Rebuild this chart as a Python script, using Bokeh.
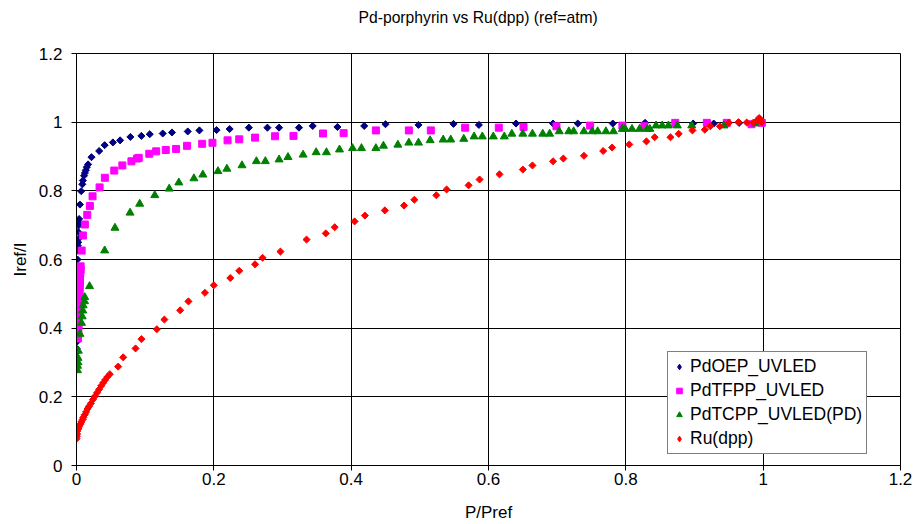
import math
from bokeh.plotting import figure
from bokeh.models import Range1d, Legend, LegendItem, FixedTicker, Title
from bokeh.embed import file_html
from bokeh.resources import INLINE

title_text = "Pd-porphyrin vs Ru(dpp) (ref=atm)"
x_label = "P/Pref"
y_label = "Iref/I"
tick_values = [0, 0.2, 0.4, 0.6, 0.8, 1.0, 1.2]
tick_labels = ["0", "0.2", "0.4", "0.6", "0.8", "1", "1.2"]

series_names = ["PdOEP_UVLED", "PdTFPP_UVLED", "PdTCPP_UVLED(PD)", "Ru(dpp)"]

pdoep_x = [0.0003, 0.0004, 0.0004, 0.0005, 0.0005, 0.0006, 0.0006, 0.0007, 0.0008, 0.0008,
           0.001, 0.001, 0.0012, 0.0015, 0.0015, 0.0015, 0.002, 0.0025, 0.0025, 0.0025, 0.003,
           0.003, 0.0035, 0.0038, 0.005, 0.0068, 0.0085, 0.0093, 0.011, 0.0122, 0.0136, 0.015,
           0.0169, 0.0218, 0.033, 0.041, 0.053, 0.0635, 0.0785, 0.0945, 0.1067, 0.1256, 0.139,
           0.162, 0.179, 0.204, 0.223, 0.251, 0.278, 0.295, 0.324, 0.344, 0.38, 0.419, 0.45,
           0.498, 0.549, 0.586, 0.64, 0.694, 0.73, 0.781, 0.828, 0.898, 0.928, 0.965, 0.99]
pdoep_y = [0.33, 0.34, 0.36, 0.38, 0.40, 0.42, 0.44, 0.46, 0.48, 0.50,
           0.52, 0.54, 0.56, 0.58, 0.60, 0.626, 0.64, 0.65, 0.66, 0.68, 0.699,
           0.71, 0.705, 0.718, 0.76, 0.799, 0.819, 0.83, 0.844, 0.852, 0.86, 0.869,
           0.877, 0.898, 0.916, 0.933, 0.941, 0.947, 0.957, 0.96, 0.965, 0.967, 0.97,
           0.973, 0.976, 0.977, 0.98, 0.984, 0.984, 0.984, 0.984, 0.989, 0.986, 0.989, 0.994,
           0.992, 0.995, 0.992, 0.996, 0.996, 0.996, 0.996, 0.998, 0.996, 0.996, 0.998, 1.0]

pdtfpp_x = [0.002, 0.0025, 0.0025, 0.0025, 0.003, 0.003, 0.003, 0.003, 0.0035, 0.0035, 0.0035,
            0.004, 0.004, 0.004, 0.0045, 0.0045, 0.005, 0.005, 0.005, 0.0055, 0.006, 0.006,
            0.0075, 0.0093, 0.0122, 0.0157, 0.0195, 0.0234, 0.0336, 0.0413, 0.055, 0.0668,
            0.080, 0.0882, 0.0906, 0.106, 0.116, 0.130, 0.145, 0.161, 0.183, 0.198, 0.220,
            0.237, 0.260, 0.289, 0.316, 0.359, 0.389, 0.436, 0.484, 0.516, 0.566, 0.615,
            0.651, 0.699, 0.748, 0.795, 0.827, 0.872, 0.918, 0.947, 0.983, 0.998]
pdtfpp_y = [0.37, 0.38, 0.39, 0.40, 0.41, 0.42, 0.43, 0.44, 0.45, 0.46, 0.47,
            0.48, 0.49, 0.50, 0.51, 0.52, 0.53, 0.54, 0.55, 0.56, 0.57, 0.58,
            0.626, 0.670, 0.702, 0.730, 0.756, 0.784, 0.810, 0.838, 0.859, 0.874,
            0.886, 0.894, 0.896, 0.908, 0.915, 0.919, 0.922, 0.931, 0.937, 0.940, 0.947,
            0.950, 0.955, 0.959, 0.960, 0.967, 0.968, 0.976, 0.976, 0.976, 0.984, 0.984,
            0.986, 0.988, 0.990, 0.990, 0.988, 0.998, 0.998, 0.998, 0.994, 0.998]

pdtcpp_x = [0.0015, 0.0015, 0.0022, 0.0022, 0.0026, 0.005, 0.0073, 0.0083, 0.0092, 0.0097,
            0.0117, 0.012, 0.019, 0.041, 0.056, 0.078, 0.092, 0.114, 0.135, 0.149, 0.171,
            0.184, 0.206, 0.219, 0.241, 0.262, 0.275, 0.295, 0.308, 0.330, 0.349, 0.364,
            0.383, 0.402, 0.415, 0.436, 0.447, 0.468, 0.484, 0.498, 0.515, 0.534, 0.545,
            0.564, 0.579, 0.591, 0.607, 0.623, 0.634, 0.650, 0.664, 0.679, 0.689, 0.703,
            0.717, 0.724, 0.739, 0.751, 0.759, 0.771, 0.782, 0.795, 0.799, 0.809, 0.820,
            0.831, 0.835, 0.844, 0.853, 0.862, 0.875, 0.896, 0.943, 0.988]
pdtcpp_y = [0.277, 0.290, 0.300, 0.313, 0.334, 0.383, 0.415, 0.434, 0.451, 0.466,
            0.478, 0.490, 0.522, 0.626, 0.692, 0.736, 0.762, 0.787, 0.806, 0.824, 0.836,
            0.847, 0.857, 0.864, 0.874, 0.886, 0.886, 0.891, 0.898, 0.905, 0.912, 0.912,
            0.920, 0.924, 0.924, 0.924, 0.931, 0.934, 0.940, 0.940, 0.947, 0.949, 0.949,
            0.951, 0.958, 0.958, 0.958, 0.958, 0.966, 0.966, 0.966, 0.966, 0.966, 0.973,
            0.973, 0.973, 0.973, 0.973, 0.973, 0.973, 0.973, 0.980, 0.980, 0.980, 0.980,
            0.980, 0.980, 0.990, 0.990, 0.990, 0.990, 0.990, 0.990, 0.996]

rudpp_x = [0.000, 0.0005, 0.001, 0.001, 0.002, 0.003, 0.004, 0.006, 0.007, 0.009, 0.010,
           0.012, 0.014, 0.016, 0.018, 0.021, 0.024, 0.027, 0.030, 0.033, 0.036, 0.039,
           0.042, 0.045, 0.0485, 0.0607, 0.068, 0.086, 0.0946, 0.117, 0.128, 0.151, 0.163,
           0.187, 0.200, 0.224, 0.237, 0.260, 0.271, 0.297, 0.335, 0.363, 0.376, 0.405,
           0.420, 0.449, 0.477, 0.492, 0.524, 0.539, 0.571, 0.587, 0.616, 0.650, 0.664,
           0.694, 0.709, 0.739, 0.767, 0.780, 0.805, 0.830, 0.842, 0.865, 0.877, 0.897,
           0.915, 0.923, 0.937, 0.950, 0.964, 0.976, 0.986, 0.992, 0.994, 0.996, 0.998]
rudpp_y = [0.078, 0.085, 0.092, 0.100, 0.105, 0.110, 0.115, 0.121, 0.127, 0.134, 0.140,
           0.148, 0.156, 0.165, 0.172, 0.181, 0.192, 0.202, 0.212, 0.222, 0.232, 0.241,
           0.250, 0.258, 0.266, 0.288, 0.315, 0.341, 0.368, 0.397, 0.425, 0.452, 0.478,
           0.503, 0.525, 0.546, 0.567, 0.586, 0.605, 0.623, 0.658, 0.676, 0.694, 0.711,
           0.728, 0.743, 0.757, 0.774, 0.787, 0.804, 0.816, 0.833, 0.848, 0.862, 0.874,
           0.886, 0.894, 0.902, 0.916, 0.926, 0.935, 0.944, 0.956, 0.956, 0.966, 0.976,
           0.978, 0.988, 0.988, 0.998, 1.000, 0.999, 0.999, 1.005, 1.012, 1.008, 1.000]

FONT = "Liberation Sans"
colors = ["#000080", "#FF00FF", "#008000", "#FF0000"]

p = figure(width=915, height=524, output_backend="svg", toolbar_location=None,
           x_range=Range1d(0, 1.2), y_range=Range1d(0, 1.2),
           min_border_left=76, min_border_right=15, min_border_top=53, min_border_bottom=59,
           title=title_text)
p.title.text_font = FONT
p.title.text_font_size = "15.7px"
p.title.text_font_style = "normal"
p.title.align = "left"
p.title.offset = 282
p.title.standoff = 10
p.title.text_color = "black"

# blank spacer between the title and the plot frame
p.add_layout(Title(text=" ", text_font=FONT, text_font_size="16px", standoff=4), "above")

p.background_fill_color = "white"
p.border_fill_color = "white"
p.outline_line_color = "black"

for ax in (p.xaxis[0], p.yaxis[0]):
    ax.ticker = FixedTicker(ticks=tick_values)
    ax.major_label_overrides = {v: s for v, s in zip(tick_values, tick_labels)}
    ax.minor_tick_line_color = None
    ax.major_tick_in = 0
    ax.major_tick_out = 5
    ax.axis_line_color = "black"
    ax.major_tick_line_color = "black"
    ax.major_label_text_font = FONT
    ax.major_label_text_font_size = "17px"
    ax.major_label_text_color = "black"
    ax.axis_label_text_font = FONT
    ax.axis_label_text_font_size = "17px"
    ax.axis_label_text_font_style = "normal"
    ax.axis_label_text_color = "black"
p.xaxis.axis_label = x_label
p.yaxis.axis_label = y_label
p.xaxis.major_label_standoff = 2
p.yaxis.major_label_standoff = 9
p.xaxis.axis_label_standoff = 15
p.yaxis.axis_label_standoff = 6

p.grid.grid_line_color = "black"
p.grid.grid_line_width = 1
p.grid.grid_line_alpha = 1

r1 = p.scatter(pdoep_x, pdoep_y, marker="square", angle=math.pi / 4, size=5,
               fill_color=colors[0], line_color=colors[0], line_width=1)
r2 = p.scatter(pdtfpp_x, pdtfpp_y, marker="square", size=7,
               fill_color=colors[1], line_color=colors[1], line_width=1)
r3 = p.scatter(pdtcpp_x, pdtcpp_y, marker="triangle", size=8,
               fill_color=colors[2], line_color=colors[2], line_width=1)
r4 = p.scatter(rudpp_x, rudpp_y, marker="square", angle=math.pi / 4, size=5,
               fill_color=colors[3], line_color=colors[3], line_width=1)

# legend swatches (smaller, as in the reference legend); a NaN point draws nothing in the plot
nan = float("nan")
l1 = p.scatter([nan], [nan], marker="diamond", size=8, fill_color=colors[0], line_color=colors[0])
l2 = p.scatter([nan], [nan], marker="square", size=6, fill_color=colors[1], line_color=colors[1])
l3 = p.scatter([nan], [nan], marker="triangle", size=7, fill_color=colors[2], line_color=colors[2])
l4 = p.scatter([nan], [nan], marker="diamond", size=8, fill_color=colors[3], line_color=colors[3])

legend = Legend(items=[LegendItem(label=n, renderers=[r]) for n, r in zip(series_names, [l1, l2, l3, l4])],
                location=(591, 11), orientation="vertical")
legend.label_text_font = FONT
legend.label_text_font_size = "17.5px"
legend.label_text_color = "black"
legend.border_line_color = "black"
legend.border_line_width = 1
legend.background_fill_color = "white"
legend.background_fill_alpha = 1
legend.padding = 4
legend.margin = 0
legend.spacing = 3
legend.label_height = 19
legend.glyph_height = 19
legend.glyph_width = 14
legend.label_standoff = 4
p.add_layout(legend, "center")

open("out.html", "w").write(file_html(p, INLINE))
